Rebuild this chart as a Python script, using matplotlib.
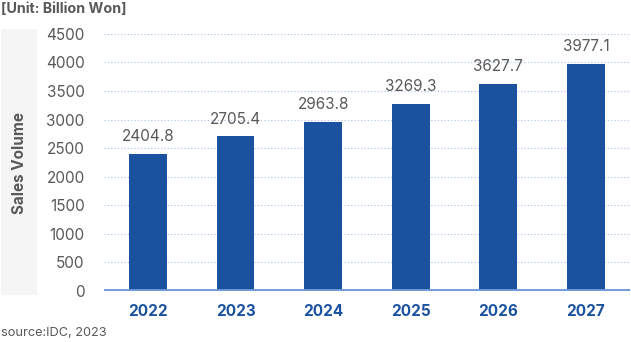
import matplotlib.pyplot as plt
from matplotlib.patches import Rectangle

plt.rcParams['font.family'] = ['Inter', 'DejaVu Sans']

years = ['2022', '2023', '2024', '2025', '2026', '2027']
sales = [2404.8, 2705.4, 2963.8, 3269.3, 3627.7, 3977.1]
yticks = [0, 500, 1000, 1500, 2000, 2500, 3000, 3500, 4000, 4500]

bar_color = '#1a52a0'
grid_color = '#a9c1e8'
text_gray = '#595959'

fig = plt.figure(figsize=(6.31, 3.42), dpi=100)
ax = fig.add_axes([0.165, 0.149, 0.833, 0.752])

# light panel behind the y label
fig.patches.append(Rectangle((1 / 631, 1 - 295 / 342), 36 / 631, 266 / 342,
                             transform=fig.transFigure, facecolor='#f5f5f5',
                             edgecolor='none', zorder=0))

x = range(len(years))
bars = ax.bar(x, sales, width=0.43, color=bar_color, zorder=2)
for rect, v in zip(bars, sales):
    ax.annotate(f'{v:.1f}', (rect.get_x() + rect.get_width() / 2, v),
                xytext=(0, 7), textcoords='offset points',
                ha='center', va='bottom', fontsize=11, color=text_gray)

ax.axhline(0, color='#719cda', linewidth=3.5, zorder=3)

ax.set_xlim(-0.5, 5.5)
ax.set_ylim(0, 4500)
ax.set_yticks(yticks)
ax.set_yticklabels([str(t) for t in yticks], fontsize=11, color=text_gray)
ax.set_xticks(list(x))
ax.set_xticklabels(years, fontsize=11, fontweight='bold', color=bar_color)
ax.tick_params(axis='y', length=0, pad=14)
ax.tick_params(axis='x', length=0, pad=9)
ax.yaxis.grid(True, linestyle=(0, (1, 2)), color=grid_color, linewidth=0.8, zorder=0)
ax.set_axisbelow(True)
for s in ax.spines.values():
    s.set_visible(False)

fig.text(20 / 631, 1 - 163 / 342, 'Sales Volume', rotation=90, ha='center', va='center',
         fontsize=11, fontweight='bold', color=text_gray)
fig.text(1 / 631, 1 - 9 / 342, '[Unit: Billion Won]', ha='left', va='center',
         fontsize=10.3, fontweight='bold', color=text_gray)
fig.text(1 / 631, 1 - 333 / 342, 'source:IDC, 2023', ha='left', va='center',
         fontsize=9.2, color=text_gray)

fig.savefig('out.png', dpi=100)
